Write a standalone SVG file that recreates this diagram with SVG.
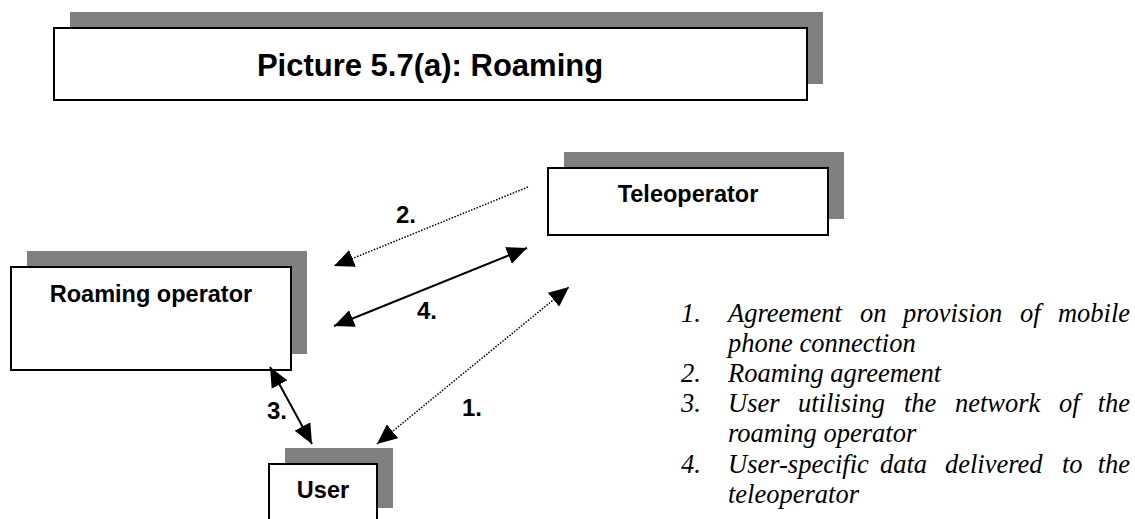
<svg xmlns="http://www.w3.org/2000/svg" width="1135" height="519" viewBox="0 0 1135 519">
  <defs>
    <style>
      .shadow { fill: #808080; }
      .box { fill: #ffffff; stroke: #000000; stroke-width: 2; }
      .label { font-family: "Liberation Sans", Arial, sans-serif; font-weight: bold; font-size: 23.5px; fill: #000000; text-anchor: middle; }
      .title { font-size: 31px; }
      .num { font-family: "Liberation Sans", Arial, sans-serif; font-weight: bold; font-size: 24px; fill: #000000; }
      .solid { stroke: #000000; stroke-width: 2; fill: none; }
      .dotted { stroke: #000000; stroke-width: 1.5; stroke-dasharray: 1.5 1.5; fill: none; }
      .legend { font-family: "Liberation Serif", "Times New Roman", serif; font-style: italic; font-size: 26.5px; fill: #000000; }
    </style>
    <marker id="head" viewBox="0 0 20 18" refX="20" refY="9" markerWidth="20" markerHeight="18" markerUnits="userSpaceOnUse" orient="auto-start-reverse">
      <path d="M0,0 L20,9 L0,18 z" fill="#000000"/>
    </marker>
  </defs>

  <rect width="1135" height="519" fill="#ffffff"/>

  <!-- heading box -->
  <g id="title">
    <rect class="shadow" x="70" y="12" width="753" height="72"/>
    <rect class="box" x="54" y="28" width="753" height="72"/>
    <text class="label title" x="430" y="76">Picture 5.7(a): Roaming</text>
  </g>

  <!-- nodes -->
  <g id="teleoperator">
    <rect class="shadow" x="564" y="152" width="280" height="67"/>
    <rect class="box" x="548" y="168" width="280" height="67"/>
    <text class="label" x="688" y="202">Teleoperator</text>
  </g>

  <g id="roaming-operator">
    <rect class="shadow" x="27" y="251" width="280" height="103"/>
    <rect class="box" x="11" y="267" width="280" height="103"/>
    <text class="label" x="151" y="302">Roaming operator</text>
  </g>

  <g id="user">
    <rect class="shadow" x="285" y="448" width="108" height="60"/>
    <rect class="box" x="269" y="464" width="108" height="62"/>
    <text class="label" x="323" y="498">User</text>
  </g>

  <!-- connectors -->
  <g id="connectors">
    <line class="dotted" x1="528" y1="187" x2="334" y2="266" marker-end="url(#head)"/>
    <line class="solid" x1="334" y1="326" x2="527" y2="248" marker-start="url(#head)" marker-end="url(#head)"/>
    <line class="dotted" x1="377" y1="444" x2="569" y2="287" marker-start="url(#head)" marker-end="url(#head)"/>
    <line class="solid" x1="270" y1="367" x2="312" y2="444" marker-start="url(#head)" marker-end="url(#head)"/>
    <text class="num" x="396" y="223">2.</text>
    <text class="num" x="417" y="319">4.</text>
    <text class="num" x="462" y="416">1.</text>
    <text class="num" x="267" y="419">3.</text>
  </g>

  <!-- legend, justified to the right margin -->
  <g id="legend" class="legend">
    <text x="681" y="322">1.</text>
    <text y="322"><tspan x="728">Agreement</tspan><tspan x="860">on</tspan><tspan x="903">provision</tspan><tspan x="1020">of</tspan><tspan x="1130" text-anchor="end">mobile</tspan></text>
    <text x="728" y="352">phone connection</text>
    <text x="681" y="382">2.</text>
    <text x="728" y="382">Roaming agreement</text>
    <text x="681" y="412">3.</text>
    <text y="412"><tspan x="728">User</tspan><tspan x="798">utilising</tspan><tspan x="904">the</tspan><tspan x="955">network</tspan><tspan x="1059">of</tspan><tspan x="1130" text-anchor="end">the</tspan></text>
    <text x="728" y="442">roaming operator</text>
    <text x="681" y="473">4.</text>
    <text y="473"><tspan x="728">User-specific</tspan><tspan x="880">data</tspan><tspan x="945">delivered</tspan><tspan x="1062">to</tspan><tspan x="1130" text-anchor="end">the</tspan></text>
    <text x="728" y="503">teleoperator</text>
  </g>
</svg>
